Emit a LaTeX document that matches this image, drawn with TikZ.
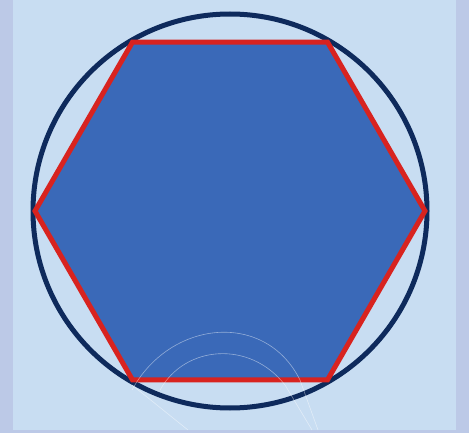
\documentclass[tikz,border=0pt]{standalone}
\definecolor{bgc}{HTML}{C8DDF2}
\definecolor{stripc}{HTML}{BCC9E7}
\definecolor{hexfill}{HTML}{3A69B8}
\definecolor{navy}{HTML}{0E2A5C}
\definecolor{redc}{HTML}{D8231F}
\tikzset{
  circline/.style={draw=navy, line width=5pt},
  hexline/.style={draw=redc, line width=5pt, fill=hexfill, line join=miter},
  faint/.style={draw=white, line width=0.6pt, opacity=0.45}
}
\begin{document}
\begin{tikzpicture}[x=1pt,y=-1pt]
\useasboundingbox (0,0) rectangle (469,433);
\fill[bgc] (0,0) rectangle (469,433);
\fill[stripc] (0,0) rectangle (13,433);
\fill[stripc] (456,0) rectangle (469,433);
\fill[stripc] (0,430) rectangle (469,433);
\coordinate (O) at (230,211);
\draw[circline] (O) circle[radius=197];
\coordinate (v1) at (425,211);
\coordinate (v2) at (327.5,42.1);
\coordinate (v3) at (132.5,42.1);
\coordinate (v4) at (35,211);
\coordinate (v5) at (132.5,379.9);
\coordinate (v6) at (327.5,379.9);
\draw[hexline] (v1) -- (v2) -- (v3) -- (v4) -- (v5) -- (v6) -- cycle;
\draw[faint] (132,390) .. controls (170,320) and (265,310) .. (300,380) -- (318,430);
\draw[faint] (160,390) .. controls (185,345) and (250,340) .. (285,385) -- (312,430);
\draw[faint] (132,385) -- (188,430);
\end{tikzpicture}
\end{document}
